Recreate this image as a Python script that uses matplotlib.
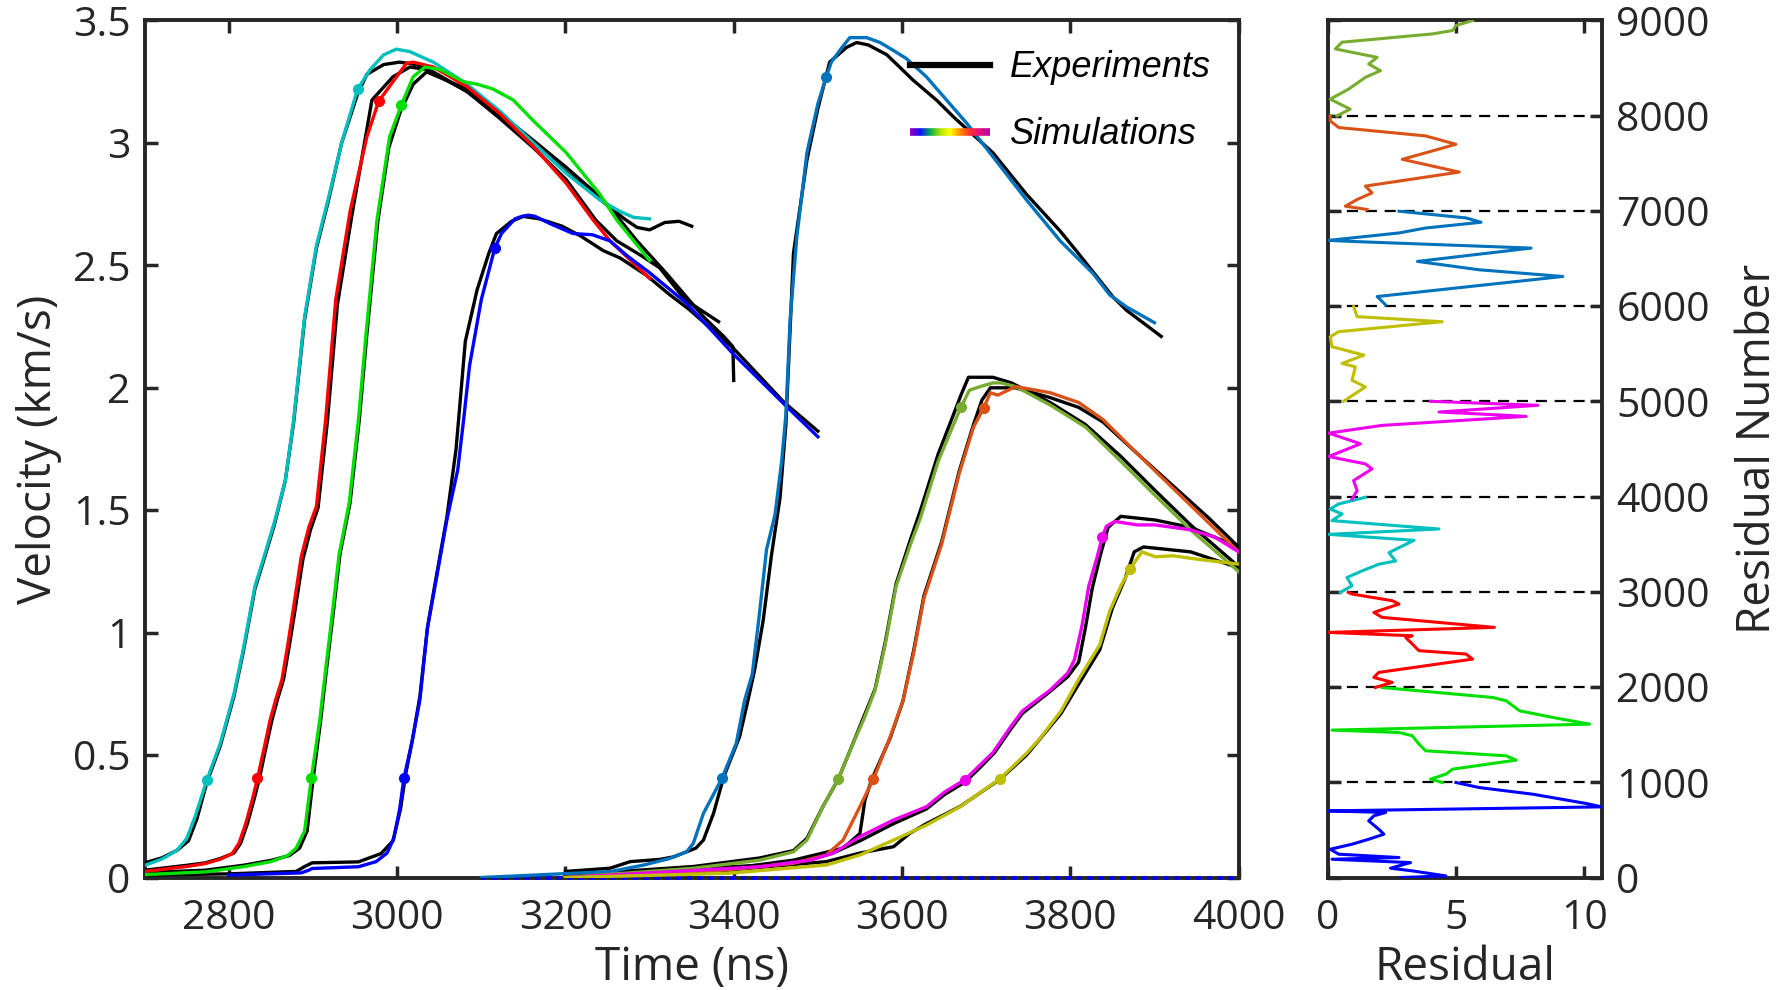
import numpy as np
import matplotlib
matplotlib.use("Agg")
import matplotlib.pyplot as plt
from matplotlib.collections import LineCollection
from matplotlib.colors import LinearSegmentedColormap
from matplotlib.legend_handler import HandlerBase
from matplotlib.lines import Line2D

plt.rcParams['font.family'] = ['Open Sans', 'DejaVu Sans']

# ---------------- velocity histories (time in ns, velocity in km/s) ----------------
# cyan shot
cyan_sim_t = [2700, 2720, 2738, 2750, 2760, 2774, 2790, 2806, 2817, 2831, 2840, 2854, 2867, 2877,
              2890, 2904, 2918, 2934, 2953, 2968, 2984, 2999, 3015, 3043, 3083, 3122, 3162, 3201,
              3241, 3265, 3281, 3300]
cyan_sim_v = [0.05, 0.075, 0.11, 0.16, 0.25, 0.40, 0.55, 0.75, 0.93, 1.19, 1.29, 1.45, 1.62, 1.87,
              2.29, 2.58, 2.77, 3.00, 3.22, 3.30, 3.36, 3.383, 3.373, 3.33, 3.24, 3.13, 3.00, 2.876,
              2.767, 2.72, 2.696, 2.69]
cyan_exp_t = [2700, 2720, 2738, 2752, 2762, 2774, 2790, 2806, 2817, 2831, 2840, 2854, 2867, 2877,
              2890, 2904, 2918, 2934, 2953, 2964, 2984, 3003, 3023, 3043, 3083, 3122, 3162, 3201,
              3241, 3270, 3285, 3300, 3318, 3335, 3350]
cyan_exp_v = [0.06, 0.08, 0.11, 0.15, 0.24, 0.39, 0.54, 0.74, 0.92, 1.18, 1.28, 1.44, 1.62, 1.86,
              2.28, 2.57, 2.76, 3.00, 3.20, 3.28, 3.32, 3.33, 3.32, 3.29, 3.21, 3.11, 3.00, 2.88,
              2.77, 2.69, 2.655, 2.645, 2.675, 2.68, 2.66]
cyan_mark_t = [2774, 2953]
cyan_mark_v = [0.40, 3.22]

# red shot
red_sim_t = [2700, 2750, 2772, 2790, 2804, 2812, 2820, 2828, 2834, 2842, 2849, 2856, 2863, 2870,
             2877, 2886, 2895, 2904, 2915, 2927, 2944, 2964, 2978, 2995, 3011, 3019, 3043, 3083,
             3122, 3162, 3201, 3233, 3253, 3300]
red_sim_v = [0.025, 0.045, 0.057, 0.075, 0.098, 0.14, 0.22, 0.32, 0.405, 0.53, 0.643, 0.73, 0.807,
             0.95, 1.106, 1.31, 1.43, 1.515, 1.87, 2.36, 2.72, 3.025, 3.17, 3.25, 3.325, 3.33, 3.31,
             3.23, 3.12, 2.985, 2.835, 2.685, 2.60, 2.447]
red_exp_t = [2700, 2750, 2772, 2790, 2806, 2814, 2822, 2830, 2836, 2844, 2851, 2858, 2865, 2872,
             2879, 2888, 2897, 2906, 2917, 2929, 2946, 2970, 2995, 3015, 3035, 3083, 3122, 3162,
             3201, 3236, 3261, 3290, 3312, 3342, 3382]
red_exp_v = [0.03, 0.05, 0.06, 0.078, 0.10, 0.14, 0.22, 0.32, 0.40, 0.53, 0.64, 0.73, 0.81, 0.95,
             1.10, 1.30, 1.42, 1.51, 1.86, 2.34, 2.70, 3.175, 3.27, 3.31, 3.30, 3.21, 3.10, 2.98,
             2.85, 2.685, 2.60, 2.54, 2.49, 2.36, 2.27]
red_mark_t = [2834, 2978]
red_mark_v = [0.405, 3.17]

# green shot
green_sim_t = [2700, 2772, 2817, 2850, 2870, 2880, 2890, 2898, 2908, 2915, 2922, 2931, 2943, 2954,
               2963, 2976, 2991, 3005, 3019, 3033, 3051, 3079, 3095, 3114, 3138, 3162, 3201, 3241,
               3261, 3300]
green_sim_v = [0.012, 0.023, 0.044, 0.065, 0.09, 0.12, 0.19, 0.405, 0.643, 0.85, 1.05, 1.32, 1.53,
               1.87, 2.22, 2.685, 3.025, 3.155, 3.27, 3.31, 3.30, 3.25, 3.24, 3.22, 3.175, 3.09,
               2.96, 2.79, 2.685, 2.52]
green_exp_t = [2700, 2772, 2817, 2850, 2872, 2884, 2893, 2900, 2909, 2916, 2923, 2932, 2944, 2955,
               2964, 2977, 2990, 3004, 3019, 3035, 3083, 3122, 3162, 3201, 3241, 3265, 3285, 3320,
               3364, 3388, 3399, 3400]
green_exp_v = [0.02, 0.03, 0.05, 0.07, 0.09, 0.12, 0.19, 0.40, 0.64, 0.85, 1.05, 1.32, 1.53, 1.87,
               2.22, 2.68, 2.98, 3.13, 3.24, 3.29, 3.22, 3.12, 3.01, 2.90, 2.78, 2.685, 2.60, 2.467,
               2.29, 2.21, 2.168, 2.03]
green_mark_t = [2898, 3005]
green_mark_v = [0.405, 3.155]

# blue shot
blue_sim_t = [2800, 2886, 2895, 2899, 2954, 2975, 2988, 2996, 3003, 3008, 3018, 3027, 3036, 3045,
              3059, 3072, 3079, 3086, 3100, 3116, 3124, 3132, 3140, 3148, 3156, 3164, 3182, 3209,
              3232, 3253, 3273, 3300, 3344, 3399, 3463, 3500]
blue_sim_v = [0.01, 0.019, 0.03, 0.037, 0.044, 0.065, 0.10, 0.16, 0.28, 0.405, 0.56, 0.725, 1.02,
              1.19, 1.46, 1.665, 1.87, 2.09, 2.36, 2.57, 2.63, 2.66, 2.69, 2.70, 2.705, 2.70, 2.67,
              2.63, 2.625, 2.60, 2.54, 2.47, 2.345, 2.14, 1.923, 1.80]
blue_exp_t = [2700, 2800, 2880, 2890, 2899, 2954, 2981, 2995, 3004, 3010, 3018, 3027, 3036, 3045,
              3059, 3070, 3081, 3095, 3109, 3118, 3136, 3150, 3169, 3196, 3218, 3245, 3265, 3296,
              3324, 3347, 3400, 3460, 3500]
blue_exp_v = [0.01, 0.015, 0.025, 0.045, 0.06, 0.064, 0.098, 0.15, 0.28, 0.42, 0.56, 0.74, 1.02,
              1.20, 1.47, 1.75, 2.19, 2.40, 2.55, 2.63, 2.68, 2.70, 2.69, 2.66, 2.62, 2.56, 2.53,
              2.46, 2.38, 2.32, 2.16, 1.94, 1.823]
blue_mark_t = [3008, 3116]
blue_mark_v = [0.405, 2.57]

# steel-blue shot
steel_sim_t = [3100, 3200, 3253, 3293, 3324, 3344, 3352, 3364, 3386, 3403, 3413, 3422, 3430, 3439,
               3449, 3457, 3462, 3467, 3475, 3487, 3500, 3510, 3516, 3528, 3538, 3558, 3574, 3590,
               3605, 3629, 3653, 3677, 3708, 3748, 3788, 3827, 3847, 3867, 3900]
steel_sim_v = [0.0, 0.016, 0.024, 0.051, 0.078, 0.105, 0.14, 0.262, 0.405, 0.548, 0.725, 0.83, 1.06,
               1.34, 1.48, 1.70, 1.89, 2.277, 2.617, 2.96, 3.16, 3.27, 3.33, 3.387, 3.43, 3.43, 3.41,
               3.377, 3.345, 3.27, 3.175, 3.08, 2.944, 2.767, 2.60, 2.467, 2.379, 2.33, 2.266]
steel_exp_t = [3200, 3253, 3277, 3312, 3328, 3344, 3355, 3364, 3376, 3388, 3407, 3417, 3425, 3435,
               3445, 3455, 3462, 3471, 3487, 3500, 3514, 3534, 3546, 3560, 3582, 3613, 3641, 3661,
               3708, 3748, 3788, 3807, 3851, 3867, 3908]
steel_exp_v = [0.025, 0.038, 0.065, 0.074, 0.084, 0.105, 0.12, 0.153, 0.262, 0.41, 0.575, 0.725,
               0.85, 1.05, 1.32, 1.55, 1.85, 2.55, 2.93, 3.14, 3.33, 3.39, 3.41, 3.40, 3.36, 3.257,
               3.175, 3.107, 2.96, 2.79, 2.64, 2.56, 2.37, 2.316, 2.21]
steel_mark_t = [3386, 3510]
steel_mark_v = [0.405, 3.27]

# olive shot
olive_sim_t = [3200, 3352, 3431, 3471, 3487, 3506, 3524, 3542, 3555, 3568, 3580, 3593, 3610, 3622,
               3643, 3660, 3670, 3680, 3692, 3708, 3718, 3735, 3776, 3818, 3860, 3901, 3943, 4000]
olive_sim_v = [0.0, 0.038, 0.071, 0.105, 0.153, 0.289, 0.402, 0.548, 0.65, 0.765, 0.95, 1.19, 1.36,
               1.47, 1.70, 1.84, 1.92, 1.99, 2.004, 2.02, 2.02, 2.005, 1.93, 1.84, 1.70, 1.56, 1.42,
               1.25]
olive_exp_t = [3200, 3352, 3431, 3471, 3487, 3506, 3524, 3542, 3568, 3580, 3593, 3610, 3622, 3643,
               3660, 3670, 3679, 3708, 3730, 3776, 3818, 3860, 3901, 3943, 4000]
olive_exp_v = [0.01, 0.045, 0.08, 0.11, 0.16, 0.29, 0.40, 0.55, 0.77, 0.96, 1.20, 1.38, 1.50, 1.73,
               1.88, 1.97, 2.043, 2.043, 2.02, 1.94, 1.85, 1.72, 1.58, 1.44, 1.27]
olive_mark_t = [3524, 3670]
olive_mark_v = [0.402, 1.92]

# orange shot
orange_sim_t = [3200, 3392, 3471, 3510, 3530, 3546, 3566, 3586, 3601, 3614, 3626, 3647, 3668, 3685,
                3696, 3705, 3714, 3726, 3735, 3776, 3810, 3839, 3880, 3922, 3964, 4000]
orange_sim_v = [0.0, 0.031, 0.058, 0.092, 0.153, 0.262, 0.402, 0.575, 0.72, 0.92, 1.14, 1.36, 1.65,
                1.84, 1.91, 1.98, 1.97, 1.99, 2.005, 1.98, 1.94, 1.87, 1.73, 1.59, 1.45, 1.33]
orange_exp_t = [3200, 3392, 3471, 3530, 3550, 3556, 3564, 3586, 3601, 3614, 3626, 3647, 3668, 3685,
                3695, 3705, 3735, 3776, 3810, 3839, 3880, 3922, 3964, 4000]
orange_exp_v = [0.01, 0.035, 0.071, 0.12, 0.18, 0.317, 0.40, 0.57, 0.72, 0.93, 1.15, 1.37, 1.66,
                1.85, 1.95, 2.00, 2.00, 1.96, 1.92, 1.86, 1.73, 1.60, 1.47, 1.35]
orange_mark_t = [3566, 3697]
orange_mark_v = [0.402, 1.916]

# magenta shot
magenta_sim_t = [3200, 3431, 3491, 3518, 3550, 3590, 3629, 3651, 3675, 3693, 3708, 3728, 3743, 3776,
                 3797, 3805, 3814, 3822, 3832, 3838, 3843, 3853, 3880, 3901, 3943, 3972, 4000]
magenta_sim_v = [0.0, 0.044, 0.071, 0.099, 0.167, 0.235, 0.289, 0.35, 0.40, 0.46, 0.51, 0.61, 0.68,
                 0.765, 0.835, 0.89, 1.03, 1.19, 1.31, 1.39, 1.435, 1.454, 1.44, 1.44, 1.42, 1.39,
                 1.33]
magenta_exp_t = [3200, 3431, 3491, 3518, 3550, 3590, 3629, 3651, 3675, 3693, 3710, 3728, 3743, 3776,
                 3797, 3810, 3818, 3826, 3836, 3845, 3860, 3901, 3943, 4000]
magenta_exp_v = [0.01, 0.05, 0.075, 0.10, 0.15, 0.22, 0.28, 0.34, 0.39, 0.45, 0.51, 0.60, 0.67, 0.76,
                 0.82, 0.88, 1.02, 1.18, 1.32, 1.43, 1.475, 1.46, 1.43, 1.35]
magenta_mark_t = [3675, 3838]
magenta_mark_v = [0.40, 1.39]

# yellow shot
yellow_sim_t = [3200, 3392, 3510, 3550, 3590, 3629, 3669, 3716, 3748, 3764, 3789, 3810, 3835, 3847,
                3860, 3871, 3885, 3901, 3922, 3951, 4000]
yellow_sim_v = [0.0, 0.017, 0.051, 0.092, 0.153, 0.214, 0.289, 0.402, 0.507, 0.568, 0.68, 0.81,
                0.95, 1.09, 1.19, 1.26, 1.33, 1.31, 1.314, 1.30, 1.28]
yellow_exp_t = [3200, 3392, 3510, 3550, 3590, 3609, 3629, 3669, 3716, 3748, 3789, 3810, 3835, 3850,
                3865, 3876, 3887, 3943, 4000]
yellow_exp_v = [0.01, 0.03, 0.065, 0.10, 0.126, 0.18, 0.22, 0.29, 0.40, 0.50, 0.67, 0.79, 0.93, 1.10,
                1.22, 1.33, 1.35, 1.33, 1.265]
yellow_mark_t = [3716, 3871]
yellow_mark_v = [0.402, 1.26]

# zero-velocity baseline
baseline_t = [3100, 4000]
baseline_v = [0.0, 0.0]

# ---------------- residual traces (residual number, residual) ----------------
res_blue_n = [0, 17, 70, 98, 157, 192, 210, 245, 297, 350, 402, 455, 508, 595, 648, 683, 700, 742,
              777, 875, 945, 998]
res_blue_r = [2.83, 4.6, 3.29, 2.44, 3.22, 0.16, 2.77, 0.42, 0.09, 0.94, 1.59, 2.18, 1.98, 1.59,
              1.79, 2.25, 0.03, 10.67, 10.08, 7.99, 5.9, 4.99]
res_green_n = [998, 1033, 1086, 1138, 1233, 1278, 1331, 1401, 1489, 1523, 1548, 1611, 1681, 1751,
               1856, 1891, 1996]
res_green_r = [4.46, 4.0, 4.6, 4.86, 7.34, 6.95, 3.81, 3.55, 3.29, 2.77, 0.16, 10.2, 8.77, 7.47,
               6.95, 6.42, 2.11]
res_red_n = [1996, 2049, 2101, 2154, 2294, 2347, 2382, 2452, 2522, 2539, 2574, 2627, 2732, 2784,
             2872, 2907, 2977, 2994]
res_red_r = [1.85, 2.51, 1.79, 1.98, 5.64, 5.38, 3.55, 3.29, 3.03, 3.29, 0.03, 6.49, 2.11, 1.79,
             2.77, 2.51, 0.94, 0.8]
res_cyan_n = [2994, 3064, 3150, 3220, 3290, 3324, 3411, 3464, 3541, 3604, 3660, 3748, 3818, 3870,
              3923, 3993]
res_cyan_r = [0.48, 0.94, 0.74, 1.33, 1.98, 2.64, 2.38, 2.77, 3.36, 0.03, 4.33, 0.16, 0.55, 0.09,
              0.42, 1.46]
res_magenta_n = [3975, 4063, 4168, 4291, 4344, 4421, 4555, 4667, 4748, 4843, 4889, 4959, 5001]
res_magenta_r = [0.94, 1.14, 1.0, 1.72, 1.46, 0.03, 1.27, 0.03, 2.11, 7.73, 4.33, 8.19, 4.0]
res_yellow_n = [5001, 5152, 5222, 5363, 5398, 5486, 5574, 5679, 5732, 5837, 5890, 5995]
res_yellow_r = [0.61, 1.46, 0.94, 1.07, 0.55, 1.4, 0.16, 0.09, 0.42, 4.46, 1.14, 1.0]
res_steel_n = [6013, 6101, 6312, 6382, 6470, 6610, 6681, 6691, 6769, 6821, 6881, 6927, 6997]
res_steel_r = [2.25, 1.92, 9.16, 5.9, 3.49, 7.92, 0.81, 0.03, 2.77, 3.81, 5.97, 5.38, 2.77]
res_orange_n = [7015, 7050, 7120, 7190, 7261, 7408, 7542, 7630, 7700, 7788, 7876, 7946, 7999]
res_orange_r = [1.53, 0.68, 1.14, 1.72, 1.46, 5.12, 2.9, 4.07, 4.99, 3.81, 0.42, 0.09, 0.09]
res_olive_n = [7999, 8069, 8174, 8280, 8403, 8473, 8543, 8613, 8701, 8772, 8859, 8895, 8947, 9000]
res_olive_r = [0.35, 0.87, 0.09, 0.81, 1.46, 2.05, 1.59, 1.92, 0.29, 0.55, 4.07, 4.86, 4.99, 5.64]

block_edges = [1000, 2000, 3000, 4000, 5000, 6000, 7000, 8000]

time_ticks = [2800, 3000, 3200, 3400, 3600, 3800, 4000]
velocity_ticks = [0, 0.5, 1, 1.5, 2, 2.5, 3, 3.5]
velocity_labels = ['0', '0.5', '1', '1.5', '2', '2.5', '3', '3.5']
residual_ticks = [0, 5, 10]
number_ticks = [0, 1000, 2000, 3000, 4000, 5000, 6000, 7000, 8000, 9000]

# ---------------- colours ----------------
C_CYAN = (0.0, 0.75, 0.75)
C_RED = (1.0, 0.0, 0.0)
C_GREEN = (0.0, 0.88, 0.0)
C_BLUE = (0.0, 0.0, 1.0)
C_STEEL = (0.0, 0.447, 0.741)
C_OLIVE = (0.466, 0.674, 0.188)
C_ORANGE = (0.85, 0.325, 0.098)
C_MAGENTA = (0.93, 0.0, 0.93)
C_YELLOW = (0.75, 0.75, 0.0)
INK = '#262626'

TICK_SIZE = 29.5
LABEL_SIZE = 33

shots = [
    (cyan_exp_t, cyan_exp_v, cyan_sim_t, cyan_sim_v, cyan_mark_t, cyan_mark_v, C_CYAN),
    (red_exp_t, red_exp_v, red_sim_t, red_sim_v, red_mark_t, red_mark_v, C_RED),
    (green_exp_t, green_exp_v, green_sim_t, green_sim_v, green_mark_t, green_mark_v, C_GREEN),
    (blue_exp_t, blue_exp_v, blue_sim_t, blue_sim_v, blue_mark_t, blue_mark_v, C_BLUE),
    (steel_exp_t, steel_exp_v, steel_sim_t, steel_sim_v, steel_mark_t, steel_mark_v, C_STEEL),
    (olive_exp_t, olive_exp_v, olive_sim_t, olive_sim_v, olive_mark_t, olive_mark_v, C_OLIVE),
    (orange_exp_t, orange_exp_v, orange_sim_t, orange_sim_v, orange_mark_t, orange_mark_v, C_ORANGE),
    (magenta_exp_t, magenta_exp_v, magenta_sim_t, magenta_sim_v, magenta_mark_t, magenta_mark_v, C_MAGENTA),
    (yellow_exp_t, yellow_exp_v, yellow_sim_t, yellow_sim_v, yellow_mark_t, yellow_mark_v, C_YELLOW),
]

residual_traces = [
    (res_blue_n, res_blue_r, C_BLUE),
    (res_green_n, res_green_r, C_GREEN),
    (res_red_n, res_red_r, C_RED),
    (res_cyan_n, res_cyan_r, C_CYAN),
    (res_magenta_n, res_magenta_r, C_MAGENTA),
    (res_yellow_n, res_yellow_r, C_YELLOW),
    (res_steel_n, res_steel_r, C_STEEL),
    (res_orange_n, res_orange_r, C_ORANGE),
    (res_olive_n, res_olive_r, C_OLIVE),
]

rainbow = LinearSegmentedColormap.from_list(
    'rainbow_key', ['#8a00b8', '#1010ff', '#00b050', '#b0e000', '#ffff00', '#ff9000',
                    '#ff3030', '#e0107a', '#c000a8'])


class RainbowKey:
    """Placeholder handle for the multi-coloured legend entry."""


class RainbowHandler(HandlerBase):
    def create_artists(self, legend, orig_handle, xdescent, ydescent, width, height,
                       fontsize, trans):
        n = 80
        xs = np.linspace(-xdescent, width - xdescent, n + 1)
        ys = np.full_like(xs, height / 2.0 - ydescent)
        pts = np.column_stack([xs, ys]).reshape(-1, 1, 2)
        segs = np.concatenate([pts[:-1], pts[1:]], axis=1)
        lc = LineCollection(segs, cmap=rainbow, linewidths=5.5, transform=trans,
                            capstyle='butt')
        lc.set_array(np.linspace(0, 1, n))
        return [lc]


def style_axes(a):
    for s in a.spines.values():
        s.set_linewidth(2.8)
        s.set_color(INK)
    a.tick_params(which='both', direction='in', length=9, width=2.5, color=INK,
                  labelcolor=INK, labelsize=TICK_SIZE)


fig = plt.figure(figsize=(17.87, 9.90), dpi=100)
ax = fig.add_axes([0.0810, 0.1136, 0.6121, 0.8657])
axr = fig.add_axes([0.7431, 0.1136, 0.1536, 0.8657])

# ---- main panel ----
ax.plot(baseline_t, baseline_v, color=C_BLUE, lw=2.6, dashes=(1.4, 1.6),
        clip_on=False, zorder=2.6)
for et, ev, st, sv, mt, mv, col in shots:
    ax.plot(et, ev, color='black', lw=2.4, zorder=3, solid_joinstyle='round')
for et, ev, st, sv, mt, mv, col in shots:
    ax.plot(st, sv, color=col, lw=2.4, zorder=4, solid_joinstyle='round')
    ax.plot(mt, mv, 'o', color=col, ms=7, zorder=5)

ax.set_xlim(2700, 4000)
ax.set_ylim(0, 3.5)
ax.set_xticks(time_ticks)
ax.set_yticks(velocity_ticks)
ax.set_yticklabels(velocity_labels)
style_axes(ax)
ax.tick_params(top=True, right=True)
ax.tick_params(axis='x', pad=15)
ax.tick_params(axis='y', pad=10)
ax.set_xlabel('Time (ns)', fontsize=LABEL_SIZE, color=INK, labelpad=4.5)
ax.set_ylabel('Velocity (km/s)', fontsize=LABEL_SIZE, color=INK, labelpad=8)

key_exp = Line2D([], [], color='black', lw=4.5)
key_sim = RainbowKey()
ax.legend([key_exp, key_sim], ['Experiments', 'Simulations'],
          handler_map={RainbowKey: RainbowHandler()},
          loc='upper left', bbox_to_anchor=(0.700, 0.965), borderpad=0, borderaxespad=0,
          handlelength=2.2, handletextpad=0.55, labelspacing=0.88, frameon=False,
          prop={'family': ['Liberation Sans', 'DejaVu Sans'], 'style': 'italic', 'size': 26})

# ---- residual panel ----
for edge in block_edges:
    axr.axhline(edge, color='black', lw=1.6, dashes=(5, 3.5), zorder=1)
for n, r, col in residual_traces:
    axr.plot(r, n, color=col, lw=2.2, zorder=3)

axr.set_xlim(0, 10.7)
axr.set_ylim(0, 9000)
axr.set_xticks(residual_ticks)
axr.set_yticks(number_ticks)
style_axes(axr)
axr.tick_params(top=True, right=True, left=True, labelleft=False, labelright=True)
axr.tick_params(axis='x', pad=15)
axr.tick_params(axis='y', pad=10)
axr.set_xlabel('Residual', fontsize=LABEL_SIZE, color=INK, labelpad=4.5)
axr.yaxis.set_label_position('right')
axr.set_ylabel('Residual Number', fontsize=LABEL_SIZE, color=INK, labelpad=18)

fig.savefig('out.png', dpi=100)
